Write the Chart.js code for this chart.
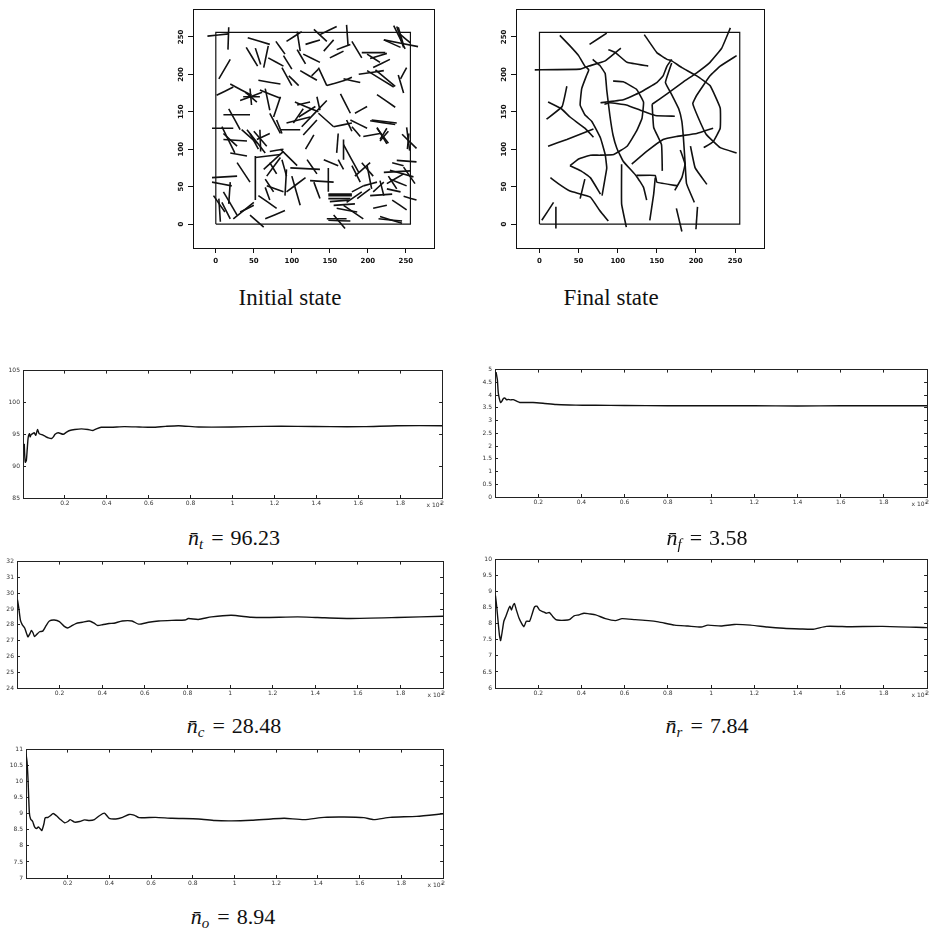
<!DOCTYPE html>
<html>
<head>
<meta charset="utf-8">
<script src="https://cdn.jsdelivr.net/npm/chart.js@4.4.0/dist/chart.umd.min.js"></script>
<style>
  body { margin:0; width:932px; height:929px; overflow:hidden; background:#fff; position:relative; }
  canvas { position:absolute; }
  .cap { position:absolute; font-family:"Liberation Serif", serif; font-size:23px; line-height:23px;
         white-space:nowrap; transform:translateX(-50%); color:#111; }
  .math { font-size:22px; line-height:22px; }
  .math sub { font-size:15px; line-height:0; vertical-align:-4px; }
  .math .eq { margin:0 7px 0 8px; }
</style>
</head>
<body>
<canvas id="initial" width="265" height="265" style="left:171px;top:5px"></canvas>
<canvas id="final" width="272" height="265" style="left:494px;top:5px"></canvas>
<canvas id="nt" width="446" height="148" style="left:3px;top:361px"></canvas>
<canvas id="nf" width="459" height="148" style="left:475px;top:360px"></canvas>
<canvas id="nc" width="453" height="147" style="left:-3px;top:552px"></canvas>
<canvas id="nr" width="459" height="149" style="left:475px;top:550px"></canvas>
<canvas id="no" width="444" height="149" style="left:6px;top:740px"></canvas>

<div class="cap" style="left:290px;top:286px">Initial state</div>
<div class="cap" style="left:611px;top:286px">Final state</div>
<div class="cap math" style="left:234px;top:527px"><i>n̄</i><sub><i>t</i></sub><span class="eq">=</span>96.23</div>
<div class="cap math" style="left:707px;top:527px"><i>n̄</i><sub><i>f</i></sub><span class="eq">=</span>3.58</div>
<div class="cap math" style="left:234px;top:715px"><i>n̄</i><sub><i>c</i></sub><span class="eq">=</span>28.48</div>
<div class="cap math" style="left:707px;top:715px"><i>n̄</i><sub><i>r</i></sub><span class="eq">=</span>7.84</div>
<div class="cap math" style="left:233px;top:906px"><i>n̄</i><sub><i>o</i></sub><span class="eq">=</span>8.94</div>

<script>
// ---- map panels (fibre network, initial and final) ----
const mapTicks = [0, 50, 100, 150, 200, 250];
const mapXRange = [-30, 287];
const mapYRange = [-32, 287];
const boxCorners = [[0,0],[256,0],[256,256],[0,256],[0,0]];

// [x1, y1, x2, y2]
const initialSegments = [
  [-11,251,17,254],[17,263,16,233],[42,249,71,240],[40,236,55,211],[52,235,59,213],
  [69,238,63,209],[79,244,91,227],[69,222,89,211],[89,225,100,207],[87,209,100,185],
  [93,244,113,257],[107,257,111,231],[107,233,118,214],[115,227,137,216],[118,240,137,246],
  [129,260,146,244],[137,253,159,264],[142,231,155,246],[150,222,168,231],[159,233,177,240],
  [172,266,174,238],[179,244,192,222],[192,229,223,229],[199,227,216,216],[221,246,243,236],
  [238,264,247,236],[243,253,256,242],[229,220,207,209],[188,200,221,205],[199,205,234,183],
  [243,194,251,209],[135,209,146,185],[146,185,170,192],[170,192,179,196],[168,194,190,189],
  [126,198,135,207],[111,205,133,192],[96,198,109,185],[1,172,23,183],[4,194,19,220],
  [19,187,47,172],[32,165,61,176],[39,176,54,163],[45,181,47,159],[56,192,85,187],
  [58,179,85,168],[65,181,71,152],[85,170,76,143],[71,148,85,121],[17,154,32,126],
  [10,146,45,146],[-5,128,23,128],[8,130,25,95],[10,113,41,111],[41,126,65,95],
  [50,124,67,104],[45,121,56,100],[58,126,59,97],[54,113,71,121],[71,97,89,100],
  [80,139,87,121],[85,126,111,126],[93,135,124,143],[102,135,115,154],[104,163,135,150],
  [107,159,124,163],[109,143,131,157],[113,130,146,165],[115,119,133,139],[118,100,129,119],
  [133,170,137,152],[135,148,155,130],[155,130,179,135],[164,174,177,148],[172,139,179,124],
  [177,139,199,128],[179,130,190,117],[183,148,199,157],[194,117,216,121],[205,139,238,135],
  [212,128,227,108],[216,113,225,128],[254,121,252,100],[161,121,159,95],[168,113,168,86],
  [168,106,188,69],[-5,62,28,64],[-5,56,21,51],[28,82,45,56],[19,95,41,91],
  [52,91,52,32],[52,89,85,93],[63,73,89,97],[67,64,85,89],[71,82,80,67],
  [67,51,89,43],[65,60,76,43],[56,38,80,21],[65,49,71,32],[87,86,93,64],
  [93,73,91,38],[100,64,111,25],[93,43,118,62],[98,75,137,73],[120,86,133,67],
  [124,58,155,56],[129,56,137,34],[148,75,148,43],[142,86,161,78],[161,86,168,73],
  [179,78,190,56],[183,64,203,82],[192,82,207,64],[199,78,205,47],[194,51,212,56],
  [207,43,221,56],[221,69,256,71],[229,60,251,51],[216,58,221,38],[227,64,238,47],
  [232,82,247,78],[203,38,232,40],[225,47,243,43],[-3,38,12,16],[4,34,6,3],
  [10,43,28,12],[8,29,19,7],[19,56,17,27],[23,7,50,29],[32,16,50,25],
  [45,12,63,-4],[65,7,91,18],[148,40,179,40],[148,38,179,38],[148,34,177,34],
  [150,30,175,32],[146,7,172,7],[148,5,177,4],[155,12,170,-6],[159,21,186,16],
  [168,25,194,7],[155,25,183,27],[172,29,192,43],[179,43,194,51],[186,34,203,47],
  [214,7,245,4],[207,21,225,25],[234,265,249,234],[240,263,247,239],[221,246,266,237],
  [203,221,225,228],[210,206,236,184],[240,199,247,175],[212,173,236,156],[203,138,236,133],
  [212,129,225,107],[216,111,227,124],[245,120,264,101],[251,129,255,98],[238,85,264,83],
  [247,76,262,54],[229,72,260,63],[225,54,247,67],[232,32,251,19],[216,10,245,1],
  [247,37,264,32],[36,170,58,170],[10,121,28,104],[34,126,54,108],[85,100,107,78]
];

// polylines of [x, y]
const finalPaths = [
  [[26,252],[39,238],[50,225],[58,211],[63,206],[60,198],[54,181],[52,159],[58,146],[67,137],[78,115],[84,93],[86,75],[84,62],[80,38]],
  [[14,62],[24,54],[39,44],[65,36],[77,18],[88,4]],
  [[11,104],[35,113],[69,127]],
  [[9,140],[29,157],[35,184]],
  [[11,163],[28,154],[39,143],[58,128],[69,116]],
  [[39,78],[50,87],[65,92],[77,92],[95,93],[112,104],[124,124],[131,141],[133,163],[124,180],[107,190],[94,191]],
  [[39,78],[53,71],[65,62],[78,40]],
  [[68,220],[77,212],[84,201],[86,179],[90,145],[94,119],[99,101],[107,84],[124,64],[133,49],[137,32]],
  [[83,160],[90,162],[111,159],[129,152],[148,145],[173,144]],
  [[88,233],[97,229],[112,216],[139,211]],
  [[78,162],[107,166],[129,176],[150,189],[158,198],[163,211],[169,220]],
  [[134,253],[150,229],[163,220],[169,218],[182,209],[201,198],[218,185],[231,155],[231,128],[222,110],[210,102]],
  [[118,80],[137,97],[158,113],[175,117],[201,121],[222,128]],
  [[144,160],[163,174],[184,190],[201,202],[218,216],[233,235],[244,262]],
  [[144,160],[146,129],[156,106],[157,71]],
  [[169,215],[161,189],[169,173],[178,154],[182,137],[184,115],[186,84],[188,54],[198,29]],
  [[252,225],[231,211],[218,198],[201,172],[196,161],[203,142],[213,120],[231,102],[252,95]],
  [[180,99],[186,80],[182,62],[173,45]],
  [[124,65],[148,65],[150,56],[177,51]],
  [[148,62],[146,40],[141,5]],
  [[193,104],[199,75],[214,53]],
  [[105,80],[105,27],[111,-4]],
  [[3,5],[18,29]],
  [[21,23],[21,-6]],
  [[175,21],[182,-10]],
  [[202,23],[200,-7]],
  [[52,34],[58,60]],
  [[86,255],[64,240]],
  [[-6,206],[52,207],[63,211],[84,218],[104,235]]
];

// ---- running averages (time in units of 10^4) ----
const timeTicks = [0.2, 0.4, 0.6, 0.8, 1, 1.2, 1.4, 1.6, 1.8, 2];
const timeTickLabels = ['0.2', '0.4', '0.6', '0.8', '1', '1.2', '1.4', '1.6', '1.8', '2'];

const ntTime = [0.006,0.008,0.011,0.016,0.020,0.024,0.027,0.031,0.034,0.039,0.046,0.053,0.061,0.069,0.077,0.090,0.105,0.121,0.137,0.145,0.153,0.168,0.192,0.208,0.223,0.247,0.279,0.310,0.334,0.350,0.373,0.420,0.483,0.554,0.617,0.680,0.743,0.838,0.995,1.153,1.310,1.468,1.625,1.783,2.0];
const ntValue = [93.5,91.85,90.6,90.9,92.6,94.3,94.85,95.1,94.6,94.95,95.1,95.25,94.85,95.75,95.1,94.95,94.7,94.45,94.35,94.6,95.0,95.25,95.0,95.35,95.6,95.75,95.85,95.75,95.6,95.85,96.1,96.1,96.2,96.15,96.1,96.25,96.35,96.15,96.15,96.25,96.25,96.2,96.2,96.35,96.35];
const ntTicks = [85, 90, 95, 100, 105];

const nfTime = [0.005,0.011,0.015,0.020,0.026,0.032,0.038,0.046,0.054,0.061,0.072,0.084,0.100,0.115,0.130,0.176,0.222,0.283,0.344,0.405,0.466,0.6,0.8,1.0,1.2,1.4,1.6,1.8,2.0];
const nfValue = [4.9,4.6,4.1,3.86,3.71,3.76,3.86,3.88,3.81,3.83,3.81,3.82,3.76,3.71,3.71,3.71,3.68,3.63,3.61,3.60,3.60,3.59,3.58,3.58,3.58,3.57,3.58,3.58,3.58];
const nfTicks = [0, 0.5, 1, 1.5, 2, 2.5, 3, 3.5, 4, 4.5, 5];

const ncTime = [0.002,0.008,0.016,0.025,0.036,0.051,0.059,0.068,0.075,0.082,0.093,0.106,0.121,0.137,0.152,0.175,0.199,0.222,0.238,0.253,0.276,0.307,0.339,0.362,0.377,0.401,0.432,0.455,0.494,0.540,0.571,0.618,0.665,0.727,0.789,0.804,0.851,0.913,1.006,1.099,1.161,1.317,1.410,1.565,1.783,2.0];
const ncValue = [29.6,29.1,28.3,28.0,27.8,27.24,27.4,27.64,27.5,27.26,27.4,27.56,27.6,27.96,28.24,28.3,28.2,27.9,27.8,27.9,28.08,28.16,28.24,28.1,27.96,28.0,28.08,28.1,28.24,28.24,28.04,28.16,28.24,28.28,28.3,28.4,28.34,28.5,28.6,28.48,28.46,28.5,28.46,28.4,28.46,28.54];
const ncTicks = [24, 25, 26, 27, 28, 29, 30, 31, 32];

const nrTime = [0.002,0.008,0.020,0.026,0.035,0.041,0.050,0.061,0.069,0.076,0.084,0.090,0.099,0.111,0.122,0.134,0.145,0.160,0.173,0.183,0.194,0.206,0.221,0.237,0.252,0.267,0.282,0.298,0.321,0.344,0.366,0.389,0.412,0.435,0.466,0.511,0.557,0.588,0.649,0.71,0.756,0.832,0.893,0.954,0.985,1.046,1.107,1.183,1.26,1.336,1.412,1.473,1.534,1.641,1.794,2.0];
const nrValue = [8.88,8.53,7.68,7.48,7.83,8.08,8.23,8.43,8.55,8.43,8.58,8.63,8.43,8.18,8.03,7.91,8.08,8.08,8.33,8.53,8.55,8.43,8.38,8.33,8.35,8.23,8.13,8.11,8.11,8.13,8.25,8.28,8.33,8.31,8.28,8.16,8.1,8.16,8.13,8.1,8.06,7.96,7.93,7.9,7.96,7.93,7.98,7.96,7.9,7.86,7.84,7.83,7.92,7.91,7.92,7.88];
const nrTicks = [6, 6.5, 7, 7.5, 8, 8.5, 9, 9.5, 10];

const noTime = [0,0.005,0.010,0.016,0.022,0.032,0.041,0.051,0.059,0.067,0.076,0.086,0.092,0.106,0.117,0.130,0.146,0.162,0.185,0.201,0.212,0.233,0.257,0.281,0.304,0.328,0.352,0.376,0.399,0.431,0.463,0.494,0.518,0.542,0.621,0.7,0.827,0.906,0.986,1.081,1.176,1.239,1.334,1.429,1.525,1.62,1.667,1.746,1.873,2.0];
const noValue = [10.87,10.62,10.03,9.04,8.84,8.76,8.59,8.54,8.59,8.54,8.48,8.69,8.87,8.89,8.94,9.01,8.94,8.84,8.72,8.76,8.82,8.74,8.76,8.81,8.79,8.82,8.94,9.02,8.86,8.84,8.89,8.98,8.96,8.88,8.89,8.86,8.84,8.79,8.78,8.80,8.84,8.86,8.82,8.89,8.9,8.88,8.82,8.89,8.92,9.0];
const noTicks = [7, 7.5, 8, 8.5, 9, 9.5, 10, 10.5, 11];

const ink = '#111';

function setTicks(values) {
  return function (scale) { scale.ticks = values.map(v => ({ value: v })); };
}

function mapChart(id, paths) {
  const datasets = paths.map(p => ({
    data: p.map(pt => ({ x: pt[0], y: pt[1] })),
    showLine: true, borderColor: ink, borderWidth: 1.6, pointRadius: 0, tension: 0.1
  }));
  datasets.push({
    data: boxCorners.map(pt => ({ x: pt[0], y: pt[1] })),
    showLine: true, borderColor: ink, borderWidth: 1.2, pointRadius: 0
  });
  const tickFont = { family: 'DejaVu Sans', size: 7, weight: 'bold' };
  const plain = { drawOnChartArea: false, drawTicks: false };
  new Chart(document.getElementById(id), {
    type: 'scatter',
    data: { datasets: datasets },
    options: {
      responsive: false, animation: false, events: [],
      layout: { padding: 0 },
      plugins: { legend: { display: false }, tooltip: { enabled: false } },
      scales: {
        x: {
          min: mapXRange[0], max: mapXRange[1],
          afterBuildTicks: setTicks(mapTicks),
          afterFit: s => { s.height = 22; },
          grid: { drawOnChartArea: false, tickLength: 5, color: ink },
          border: { color: ink },
          ticks: { font: tickFont, color: ink, padding: 4, maxRotation: 0, autoSkip: false }
        },
        y: {
          min: mapYRange[0], max: mapYRange[1],
          afterBuildTicks: setTicks(mapTicks),
          afterFit: s => { s.width = 22; },
          grid: { drawOnChartArea: false, tickLength: 5, color: ink },
          border: { color: ink },
          ticks: { font: tickFont, color: ink, padding: 0, minRotation: 90, maxRotation: 90,
                   crossAlign: 'center', autoSkip: false }
        },
        x2: {
          type: 'linear', position: 'top', min: mapXRange[0], max: mapXRange[1],
          ticks: { display: false }, grid: plain, border: { color: ink },
          afterFit: s => { s.height = 2; }
        },
        y2: {
          type: 'linear', position: 'right', min: mapYRange[0], max: mapYRange[1],
          ticks: { display: false }, grid: plain, border: { color: ink },
          afterFit: s => { s.width = 2; }
        }
      }
    }
  });
}

function seriesChart(id, times, values, yTicks) {
  const inward = { drawOnChartArea: false, drawTicks: true, tickLength: -3, color: '#222' };
  const tickFont = { family: 'DejaVu Sans', size: 6 };
  const yMin = yTicks[0], yMax = yTicks[yTicks.length - 1];
  new Chart(document.getElementById(id), {
    type: 'scatter',
    data: {
      datasets: [{
        data: times.map((t, i) => ({ x: t, y: values[i] })),
        showLine: true, borderColor: ink, borderWidth: 1.4, pointRadius: 0, tension: 0.2
      }]
    },
    options: {
      responsive: false, animation: false, events: [],
      layout: { padding: 0 },
      plugins: { legend: { display: false }, tooltip: { enabled: false } },
      scales: {
        x: {
          min: 0, max: 2,
          afterBuildTicks: setTicks(timeTicks),
          afterFit: s => { s.height = 11; },
          grid: inward, border: { color: '#222' },
          ticks: { font: tickFont, color: '#333', padding: 5, maxRotation: 0, autoSkip: false,
                   callback: (v, i) => timeTickLabels[i] },
          title: { display: true, text: 'x 10⁴', align: 'end', color: '#333',
                   font: { family: 'DejaVu Sans', size: 6 }, padding: 0 }
        },
        y: {
          min: yMin, max: yMax,
          afterBuildTicks: setTicks(yTicks),
          afterFit: s => { s.width = 20; },
          grid: inward, border: { color: '#222' },
          ticks: { font: tickFont, color: '#333', padding: 6, autoSkip: false,
                   callback: v => String(v) }
        },
        x2: {
          type: 'linear', position: 'top', min: 0, max: 2,
          afterBuildTicks: setTicks(timeTicks),
          afterFit: s => { s.height = 3; },
          grid: inward, border: { color: '#222' }, ticks: { display: false }
        },
        y2: {
          type: 'linear', position: 'right', min: yMin, max: yMax,
          afterBuildTicks: setTicks(yTicks),
          afterFit: s => { s.width = 3; },
          grid: inward, border: { color: '#222' }, ticks: { display: false }
        }
      }
    }
  });
}

mapChart('initial', initialSegments.map(s => [[s[0], s[1]], [s[2], s[3]]]));
mapChart('final', finalPaths);
seriesChart('nt', ntTime, ntValue, ntTicks);
seriesChart('nf', nfTime, nfValue, nfTicks);
seriesChart('nc', ncTime, ncValue, ncTicks);
seriesChart('nr', nrTime, nrValue, nrTicks);
seriesChart('no', noTime, noValue, noTicks);
</script>
</body>
</html>
